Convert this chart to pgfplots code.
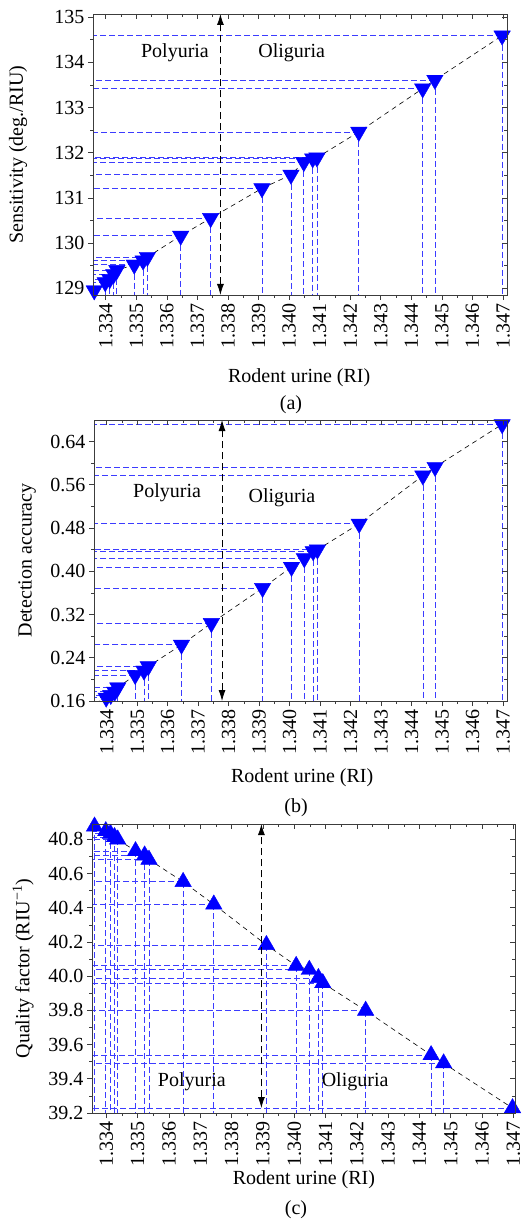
\documentclass[border=0pt]{standalone}
\usepackage{fontspec}
\setmainfont{Liberation Serif}
\usepackage{pgfplots}
\usepackage{pgfplotstable}
\pgfplotsset{compat=1.18}
\usetikzlibrary{arrows.meta}

\definecolor{dropblue}{RGB}{60,60,255}
\definecolor{axisgray}{RGB}{60,60,60}
\newcommand{\bigfont}{\fontsize{20}{24}\selectfont}

% RI of the samples and the three figures of merit
\pgfplotstableread{
x y
1.33362 128.95
1.33398 129.13
1.33413 129.20
1.33426 129.31
1.33436 129.40
1.33493 129.52
1.33522 129.61
1.33536 129.69
1.33645 130.16
1.33743 130.55
1.33911 131.21
1.34006 131.51
1.34048 131.79
1.34077 131.87
1.34091 131.89
1.34228 132.46
1.34437 133.42
1.34477 133.61
1.34697 134.59
}\sens

\pgfplotstableread{
x y
1.33362 0.156
1.33398 0.166
1.33413 0.171
1.33426 0.177
1.33436 0.185
1.33493 0.208
1.33522 0.216
1.33536 0.224
1.33645 0.264
1.33743 0.304
1.33911 0.369
1.34006 0.408
1.34048 0.424
1.34077 0.437
1.34091 0.440
1.34228 0.488
1.34437 0.577
1.34477 0.593
1.34697 0.672
}\acc

\pgfplotstableread{
x y
1.33362 40.876
1.33398 40.849
1.33413 40.833
1.33426 40.814
1.33436 40.800
1.33493 40.732
1.33522 40.707
1.33536 40.682
1.33645 40.552
1.33743 40.420
1.33911 40.183
1.34006 40.061
1.34048 40.038
1.34077 39.990
1.34091 39.960
1.34228 39.799
1.34437 39.539
1.34477 39.491
1.34697 39.229
}\qf

\tikzset{divider/.style={black, line width=0.8pt, dash pattern=on 7pt off 4pt,
    {Latex[length=11pt,width=7pt]}-{Latex[length=11pt,width=7pt]}}}

\pgfplotsset{
  every axis/.append style={
    scale only axis,
    anchor=south west,
    axis line style={axisgray, line width=0.9pt},
    tick style={axisgray, line width=0.7pt},
    major tick length=5pt,
    minor tick length=3pt,
    minor x tick num=1,
    minor y tick num=1,
    xtick={1.334,1.335,1.336,1.337,1.338,1.339,1.340,1.341,1.342,1.343,1.344,1.345,1.346,1.347},
    tick label style={font=\bigfont},
    label style={font=\bigfont},
    /pgf/number format/assume math mode=true,
    xticklabel style={rotate=90, anchor=east,
      /pgf/number format/.cd, fixed, fixed zerofill, precision=3},
  },
  main/.style={tick align=outside, xtick pos=left, ytick pos=left, clip mode=individual},
  mirror/.style={tick align=inside, xtick pos=right, ytick pos=right,
    xticklabels={}, yticklabels={}},
  % drop lines to the left axis and to the bottom axis (clipped by the axis)
  hdrop/.style={dropblue, line width=0.7pt, dash pattern=on 6pt off 3pt,
    mark=none, forget plot, quiver={u value=-0.02, v value=0}},
  vdrop/.style={dropblue, line width=0.7pt, dash pattern=on 6pt off 3pt,
    mark=none, forget plot, quiver={u value=0, v value=-#1}},
  link/.style={black, line width=0.6pt, mark=none, dash pattern=on 5pt off 4pt},
  downmarks/.style={only marks, mark=triangle*, mark size=9.5pt,
    mark options={rotate=180, draw=blue, fill=blue}},
  upmarks/.style={only marks, mark=triangle*, mark size=9.5pt,
    mark options={draw=blue, fill=blue}},
}

\begin{document}
\begin{tikzpicture}
\useasboundingbox (0,0) rectangle (531pt,-1220pt);

% ---------- (a) sensitivity ----------
\begin{axis}[main, at={(93pt,-295pt)}, width=414pt, height=281pt,
  xmin=1.33358, xmax=1.34713, ymin=128.85, ymax=135.07,
  ytick={129,130,131,132,133,134,135},
  xlabel={Rodent urine (RI)}, ylabel={Sensitivity (deg./RIU)},
  x label style={at={(axis description cs:0.498,-0.295)}, anchor=center},
  y label style={at={(axis description cs:-0.181,0.5)}, anchor=center},
]
  \addplot[hdrop] table {\sens};
  \addplot[vdrop=10] table {\sens};
  \addplot[link] table {\sens};
  \addplot[downmarks] table {\sens};
  \draw[divider] (1.33775,128.85) -- (1.33775,135.07);
  \node[font=\bigfont] at (axis description cs:0.198,0.861) {Polyuria};
  \node[font=\bigfont] at (axis description cs:0.48,0.861) {Oliguria};
\end{axis}
\begin{axis}[mirror, at={(93pt,-295pt)}, width=414pt, height=281pt,
  xmin=1.33358, xmax=1.34713, ymin=128.85, ymax=135.07,
  ytick={129,130,131,132,133,134,135}]
\end{axis}

% ---------- (b) detection accuracy ----------
\begin{axis}[main, at={(94pt,-701pt)}, width=413pt, height=281pt,
  xmin=1.33358, xmax=1.34713, ymin=0.16, ymax=0.68,
  ytick={0.16,0.24,0.32,0.40,0.48,0.56,0.64},
  yticklabel style={/pgf/number format/.cd, fixed, fixed zerofill, precision=2},
  xlabel={Rodent urine (RI)}, ylabel={Detection accuracy},
  x label style={at={(axis description cs:0.504,-0.274)}, anchor=center},
  y label style={at={(axis description cs:-0.162,0.5)}, anchor=center},
]
  \addplot[hdrop] table {\acc};
  \addplot[vdrop=1] table {\acc};
  \addplot[link] table {\acc};
  \addplot[downmarks] table {\acc};
  \draw[divider] (1.33778,0.16) -- (1.33778,0.68);
  \node[font=\bigfont] at (axis description cs:0.177,0.740) {Polyuria};
  \node[font=\bigfont] at (axis description cs:0.455,0.722) {Oliguria};
\end{axis}
\begin{axis}[mirror, at={(94pt,-701pt)}, width=413pt, height=281pt,
  xmin=1.33358, xmax=1.34713, ymin=0.16, ymax=0.68,
  ytick={0.16,0.24,0.32,0.40,0.48,0.56,0.64}]
\end{axis}

% ---------- (c) quality factor ----------
\begin{axis}[main, at={(92pt,-1113pt)}, width=423pt, height=289pt,
  xmin=1.33354, xmax=1.34705, ymin=39.2, ymax=40.89,
  ytick={39.2,39.4,39.6,39.8,40.0,40.2,40.4,40.6,40.8},
  yticklabel style={/pgf/number format/.cd, fixed, fixed zerofill, precision=1},
  xlabel={Rodent urine (RI)}, ylabel={Quality factor (RIU\textsuperscript{−1})},
  x label style={at={(axis description cs:0.501,-0.232)}, anchor=center},
  y label style={at={(axis description cs:-0.163,0.5)}, anchor=center},
]
  \addplot[hdrop] table {\qf};
  \addplot[vdrop=2] table {\qf};
  \addplot[link] table {\qf};
  \addplot[upmarks] table {\qf};
  \draw[divider] (1.33895,39.229) -- (1.33895,40.89);
  \node[font=\bigfont] at (axis description cs:0.236,0.107) {Polyuria};
  \node[font=\bigfont] at (axis description cs:0.622,0.107) {Oliguria};
\end{axis}
\begin{axis}[mirror, at={(92pt,-1113pt)}, width=423pt, height=289pt,
  xmin=1.33354, xmax=1.34705, ymin=39.2, ymax=40.89,
  ytick={39.2,39.4,39.6,39.8,40.0,40.2,40.4,40.6,40.8}]
\end{axis}

\node[font=\bigfont] at (291pt,-405pt) {(a)};
\node[font=\bigfont] at (296pt,-808pt) {(b)};
\node[font=\bigfont] at (296pt,-1210pt) {(c)};
\end{tikzpicture}
\end{document}
